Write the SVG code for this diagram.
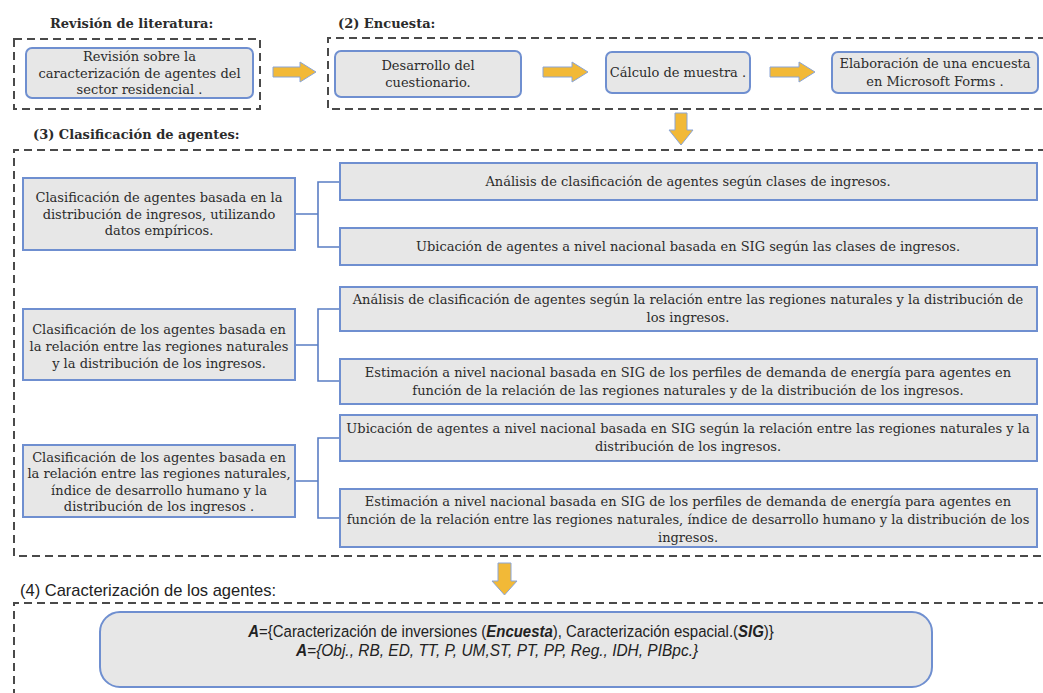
<svg xmlns="http://www.w3.org/2000/svg" width="1043" height="693" viewBox="0 0 1043 693">
<style>
.t{font-family:"DejaVu Serif","Liberation Serif",serif;font-size:13px;fill:#2b2b2b;text-anchor:middle}
.h{font-family:"DejaVu Serif","Liberation Serif",serif;font-size:13px;font-weight:bold;fill:#2b2b2b}
.dash{fill:none;stroke:#4a4a4a;stroke-width:2;stroke-dasharray:8 5}
.nr{fill:#e7e7e7;stroke:#6f8fd0;stroke-width:2}
.arr{fill:#f2b937;stroke:#8aa5d6;stroke-width:1}
.con{fill:none;stroke:#5a7dc4;stroke-width:1.6}
.b{font-family:"Liberation Sans",Arial,sans-serif;fill:#222;text-anchor:middle;font-size:17px}
.bi{font-weight:bold;font-style:italic}
</style>
<rect fill="#fff" width="1043" height="693"/>

<g id="sections">
  <text class="h" x="50" y="28">Revisión de literatura:</text>
  <rect class="dash" x="14" y="39" width="246" height="70"/>
  <text class="h" x="338" y="28">(2) Encuesta:</text>
  <path class="dash" d="M1046,38 H328 V109 H1046"/>
  <text class="h" x="33" y="139">(3) Clasificación de agentes:</text>
  <path class="dash" d="M1046,150 H14 V556 H1046"/>
  <text x="20" y="596" font-family="Liberation Sans, Arial, sans-serif" font-size="17" fill="#222" textLength="256" lengthAdjust="spacingAndGlyphs">(4) Caracterización de los agentes:</text>
  <path class="dash" d="M1046,603 H14 V700"/>
</g>

<g id="connectors">
  <path class="arr" d="M273,67 H300 V62 L316,72 L300,82 V77 H273 Z"/>
  <path class="arr" d="M543,67 H572 V62 L588,72 L572,82 V77 H543 Z"/>
  <path class="arr" d="M770,67 H799 V62 L815,72 L799,82 V77 H770 Z"/>
  <path class="arr" d="M675,113 H687 V130 H693 L681,145 L669,130 H675 Z"/>
  <path class="arr" d="M498,563 H511 V581 H517 L504.5,595 L492,581 H498 Z"/>
  <path class="con" d="M295,214 H318 M340,182 H318 V247 H340"/>
  <path class="con" d="M295,345 H318 M340,309 H318 V381 H340"/>
  <path class="con" d="M295,481 H318 M340,438 H318 V518 H340"/>
</g>

<g id="n-revision">
  <rect class="nr" x="26" y="48" width="227" height="50" rx="6"/>
  <text class="t" x="139.5" y="61">Revisión sobre la</text>
  <text class="t" x="139.5" y="78">caracterización de agentes del</text>
  <text class="t" x="139.5" y="94">sector residencial .</text>
</g>
<g id="n-desarrollo">
  <rect class="nr" x="335" y="51" width="186" height="46" rx="6"/>
  <text class="t" x="428" y="70">Desarrollo del</text>
  <text class="t" x="428" y="87">cuestionario.</text>
</g>
<g id="n-calculo">
  <rect class="nr" x="606" y="52" width="144" height="41" rx="6"/>
  <text class="t" x="678" y="77">Cálculo de muestra .</text>
</g>
<g id="n-elaboracion">
  <rect class="nr" x="832" y="52" width="206" height="41" rx="6"/>
  <text class="t" x="935" y="68">Elaboración de una encuesta</text>
  <text class="t" x="935" y="86">en Microsoft Forms .</text>
</g>

<g id="n-g1">
  <rect class="nr" x="23" y="178" width="272" height="72"/>
  <text class="t" x="159" y="202">Clasificación de agentes basada en la</text>
  <text class="t" x="159" y="219">distribución de ingresos, utilizando</text>
  <text class="t" x="159" y="235">datos empíricos.</text>
</g>
<g id="n-g1a">
  <rect class="nr" x="340" y="163" width="697" height="37"/>
  <text class="t" x="688" y="186">Análisis de clasificación de agentes según clases de ingresos.</text>
</g>
<g id="n-g1b">
  <rect class="nr" x="340" y="228" width="697" height="37"/>
  <text class="t" x="688" y="251">Ubicación de agentes a nivel nacional basada en SIG según las clases de ingresos.</text>
</g>

<g id="n-g2">
  <rect class="nr" x="23" y="309" width="272" height="71"/>
  <text class="t" x="159" y="334">Clasificación de los agentes basada en</text>
  <text class="t" x="159" y="351">la relación entre las regiones naturales</text>
  <text class="t" x="159" y="368">y la distribución de los ingresos.</text>
</g>
<g id="n-g2a">
  <rect class="nr" x="340" y="287" width="697" height="44"/>
  <text class="t" x="688" y="304">Análisis de clasificación de agentes según la relación entre las regiones naturales y la distribución de</text>
  <text class="t" x="688" y="322">los ingresos.</text>
</g>
<g id="n-g2b">
  <rect class="nr" x="340" y="359" width="697" height="45"/>
  <text class="t" x="688" y="377">Estimación a nivel nacional basada en SIG de los perfiles de demanda de energía para agentes en</text>
  <text class="t" x="688" y="395">función de la relación de las regiones naturales y de la distribución de los ingresos.</text>
</g>

<g id="n-g3">
  <rect class="nr" x="23" y="445" width="272" height="72"/>
  <text class="t" x="159" y="462">Clasificación de los agentes basada en</text>
  <text class="t" x="159" y="478">la relación entre las regiones naturales,</text>
  <text class="t" x="159" y="495">índice de desarrollo humano y la</text>
  <text class="t" x="159" y="511">distribución de los ingresos .</text>
</g>
<g id="n-g3a">
  <rect class="nr" x="340" y="415" width="697" height="46"/>
  <text class="t" x="688" y="433">Ubicación de agentes a nivel nacional basada en SIG según la relación entre las regiones naturales y la</text>
  <text class="t" x="688" y="451">distribución de los ingresos.</text>
</g>
<g id="n-g3b">
  <rect class="nr" x="340" y="489" width="697" height="58"/>
  <text class="t" x="688" y="506">Estimación a nivel nacional basada en SIG de los perfiles de demanda de energía para agentes en</text>
  <text class="t" x="688" y="524">función de la relación entre las regiones naturales, índice de desarrollo humano y la distribución de los</text>
  <text class="t" x="688" y="542">ingresos.</text>
</g>

<g id="n-caracterizacion">
  <rect class="nr" x="100" y="612" width="832" height="75" rx="20"/>
  <text class="b" transform="translate(511,637) scale(0.88,1)"><tspan class="bi">A</tspan>={Caracterización de inversiones (<tspan class="bi">Encuesta</tspan>), Caracterización espacial.(<tspan class="bi">SIG</tspan>)}</text>
  <text class="b" transform="translate(497,656) scale(0.91,1)" font-style="italic"><tspan font-weight="bold">A</tspan>={Obj., RB, ED, TT, P, UM,ST, PT, PP, Reg., IDH, PIBpc.}</text>
</g>
</svg>
